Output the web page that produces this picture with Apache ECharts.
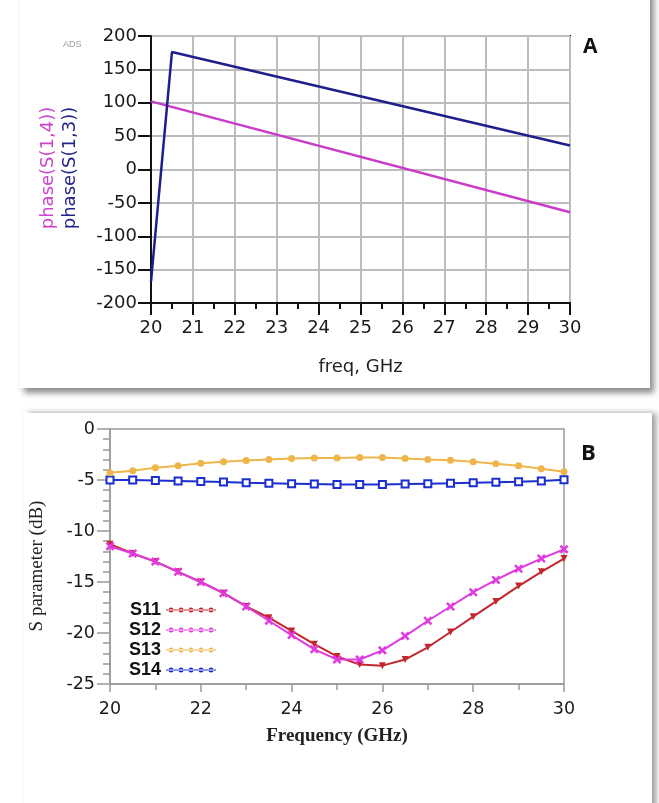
<!DOCTYPE html>
<html>
<head>
<meta charset="utf-8">
<script src="https://cdn.jsdelivr.net/npm/echarts@6/dist/echarts.min.js"></script>
<style>
  html, body { margin: 0; padding: 0; background: #fff; }
  #main { width: 659px; height: 803px; }
</style>
</head>
<body>
<div id="main"></div>
<script>
// panel A - phase (ADS)
var phaseS13 = [[20, -168], [20.5, 176], [30, 36]]
var phaseS14 = [[20, 102], [30, -64]]

// panel B - S parameters
var freqB = [20, 20.5, 21, 21.5, 22, 22.5, 23, 23.5, 24, 24.5, 25, 25.5, 26, 26.5, 27, 27.5, 28, 28.5, 29, 29.5, 30]
var s11 = [-11.3, -12.2, -13.0, -14.0, -15.0, -16.1, -17.4, -18.5, -19.8, -21.1, -22.3, -23.1, -23.2, -22.6, -21.4, -19.9, -18.4, -16.9, -15.4, -14.0, -12.7]
var s12 = [-11.5, -12.2, -13.0, -14.0, -15.0, -16.1, -17.4, -18.8, -20.2, -21.6, -22.6, -22.6, -21.7, -20.3, -18.8, -17.4, -16.0, -14.8, -13.7, -12.7, -11.8]
var s13 = [-4.3, -4.1, -3.8, -3.6, -3.35, -3.2, -3.1, -3.0, -2.9, -2.85, -2.85, -2.8, -2.8, -2.9, -3.0, -3.07, -3.2, -3.4, -3.6, -3.9, -4.2]
var s14 = [-5.0, -5.0, -5.05, -5.1, -5.15, -5.2, -5.28, -5.32, -5.36, -5.4, -5.43, -5.43, -5.43, -5.4, -5.36, -5.33, -5.27, -5.23, -5.17, -5.1, -4.97]
var seriesNamesB = ['S11', 'S12', 'S13', 'S14']

function pairs(xs, ys) {
  return xs.map(function (x, i) { return [x, ys[i]] })
}

var chart = echarts.init(document.getElementById('main'))

// little line-with-dots icon for the legend
var dotsIcon = 'path://M0,2H50V3H0Z' +
  [5, 15, 25, 35, 45].map(function (cx) {
    return 'M' + (cx - 2.5) + ',2.5a2.5,2.5 0 1,0 5,0a2.5,2.5 0 1,0 -5,0Z'
  }).join('')

var sans = 'DejaVu Sans, Verdana, sans-serif'
var serif = 'Liberation Serif, Times New Roman, serif'
var tickFont = { fontFamily: sans, fontSize: 17.5, color: '#1a1a1a' }

var option = {
  backgroundColor: '#fff',
  animation: false,
  graphic: [
    // cards with shadow
    { type: 'rect', z: -10, shape: { x: 20, y: -20, width: 630, height: 408 },
      style: { fill: '#fff', shadowBlur: 6, shadowOffsetX: 4, shadowOffsetY: 5, shadowColor: 'rgba(0,0,0,0.45)' } },
    { type: 'rect', z: -10, shape: { x: 24, y: 413, width: 628, height: 420 },
      style: { fill: '#fff', shadowBlur: 6, shadowOffsetX: 4, shadowOffsetY: 0, shadowColor: 'rgba(0,0,0,0.4)' } },
    { type: 'text', x: 63, y: 40, style: { text: 'ADS', fill: '#999', fontSize: 9, fontFamily: 'Liberation Sans, Arial' } },
    { type: 'text', x: 48, y: 168, rotation: Math.PI / 2,
      style: { text: 'phase(S(1,4))', fill: '#cc44cc', fontSize: 18, fontFamily: sans, align: 'center', verticalAlign: 'middle' } },
    { type: 'text', x: 70, y: 168, rotation: Math.PI / 2,
      style: { text: 'phase(S(1,3))', fill: '#24248f', fontSize: 18, fontFamily: sans, align: 'center', verticalAlign: 'middle' } },
    { type: 'text', x: 583, y: 37, style: { text: 'A', fill: '#111', fontSize: 21, fontWeight: 'bold', fontFamily: 'Open Sans, Arial' } },
    { type: 'text', x: 581, y: 443, style: { text: 'B', fill: '#111', fontSize: 22, fontWeight: 'bold', fontFamily: 'Open Sans, Arial' } },
    { type: 'text', x: 37, y: 566, rotation: Math.PI / 2,
      style: { text: 'S parameter (dB)', fill: '#222', fontSize: 19, fontFamily: serif, align: 'center', verticalAlign: 'middle' } }
  ],
  legend: {
    data: seriesNamesB.map(function (n) { return { name: n, icon: dotsIcon } }),
    orient: 'vertical',
    left: 124,
    top: 596,
    align: 'right',
    itemWidth: 50,
    itemHeight: 5,
    itemGap: 2,
    textStyle: { fontFamily: 'Liberation Sans, Arial', fontSize: 18, fontWeight: 'bold', color: '#111', lineHeight: 17.4 },
    selectedMode: false
  },
  grid: [
    { left: 151, top: 36, width: 419, height: 267, show: true, borderColor: '#111', borderWidth: 2, backgroundColor: 'transparent' },
    { left: 110, top: 429, width: 454, height: 255, show: true, borderColor: '#999', borderWidth: 1.5, backgroundColor: 'transparent' }
  ],
  xAxis: [
    {
      gridIndex: 0, type: 'value', min: 20, max: 30, interval: 1,
      name: 'freq, GHz', nameLocation: 'middle', nameGap: 55,
      nameTextStyle: { fontFamily: sans, fontSize: 18, color: '#222' },
      axisLine: { onZero: false, lineStyle: { color: '#111', width: 2 } },
      axisTick: { length: 12, lineStyle: { color: '#111', width: 2 } },
      minorTick: { show: true, splitNumber: 2, length: 6, lineStyle: { color: '#111', width: 2 } },
      axisLabel: Object.assign({ margin: 16 }, tickFont, { fontSize: 18 }),
      splitLine: { show: true, lineStyle: { color: '#bdbdbd', width: 2 } }
    },
    {
      gridIndex: 1, type: 'value', min: 20, max: 30, interval: 2,
      name: 'Frequency (GHz)', nameLocation: 'middle', nameGap: 43,
      nameTextStyle: { fontFamily: serif, fontSize: 19, fontWeight: 'bold', color: '#222' },
      axisLine: { onZero: false, lineStyle: { color: '#999', width: 1.5 } },
      axisTick: { length: 8, lineStyle: { color: '#999', width: 1.5 } },
      minorTick: { show: true, splitNumber: 2, length: 6, lineStyle: { color: '#999', width: 1.5 } },
      axisLabel: Object.assign({ margin: 16 }, tickFont),
      splitLine: { show: false }
    }
  ],
  yAxis: [
    {
      gridIndex: 0, type: 'value', min: -200, max: 200, interval: 50,
      axisLine: { show: true, onZero: false, lineStyle: { color: '#111', width: 2 } },
      axisTick: { show: true, length: 13, lineStyle: { color: '#111', width: 2 } },
      axisLabel: Object.assign({ margin: 14 }, tickFont, { fontSize: 18 }),
      splitLine: { show: true, lineStyle: { color: '#bdbdbd', width: 2 } }
    },
    {
      gridIndex: 1, type: 'value', min: -25, max: 0, interval: 5,
      axisLine: { show: true, onZero: false, lineStyle: { color: '#999', width: 1.5 } },
      axisTick: { show: true, length: 13, lineStyle: { color: '#999', width: 1.5 } },
      minorTick: { show: true, splitNumber: 5, length: 7, lineStyle: { color: '#999', width: 1.5 } },
      axisLabel: Object.assign({ margin: 15 }, tickFont),
      splitLine: { show: false }
    }
  ],
  series: [
    {
      name: 'phase(S(1,4))', type: 'line', xAxisIndex: 0, yAxisIndex: 0,
      data: phaseS14, showSymbol: false, lineStyle: { color: '#c93cc9', width: 2.5 }
    },
    {
      name: 'phase(S(1,3))', type: 'line', xAxisIndex: 0, yAxisIndex: 0,
      data: phaseS13, showSymbol: false, lineStyle: { color: '#1f1f8c', width: 2.5 }
    },
    {
      name: 'S14', type: 'line', xAxisIndex: 1, yAxisIndex: 1, data: pairs(freqB, s14),
      color: '#1a2fd0', symbol: 'emptyRect', symbolSize: 7,
      itemStyle: { borderWidth: 2 }, lineStyle: { width: 2 }
    },
    {
      name: 'S13', type: 'line', xAxisIndex: 1, yAxisIndex: 1, data: pairs(freqB, s13),
      color: '#eeb64a', symbol: 'circle', symbolSize: 7, lineStyle: { width: 2 }
    },
    {
      name: 'S11', type: 'line', xAxisIndex: 1, yAxisIndex: 1, data: pairs(freqB, s11),
      color: '#c2272d', symbol: 'triangle', symbolRotate: 180, symbolSize: 7, lineStyle: { width: 2 }
    },
    {
      name: 'S12', type: 'line', xAxisIndex: 1, yAxisIndex: 1, data: pairs(freqB, s12),
      color: '#e03ae0', symbol: 'path://M0,2L2,0L5,3L8,0L10,2L7,5L10,8L8,10L5,7L2,10L0,8L3,5Z', symbolSize: 9,
      lineStyle: { width: 2 }
    }
  ]
}

chart.setOption(option)
</script>
</body>
</html>
